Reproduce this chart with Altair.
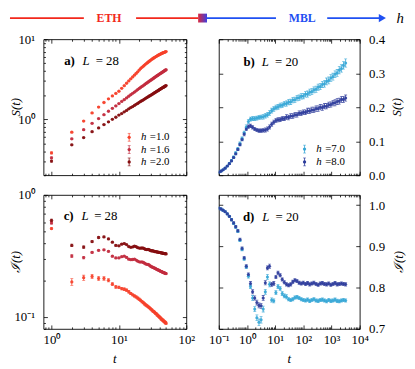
import altair as alt
import pandas as pd

FONT = "Liberation Serif"
RED = "#f2281c"
BLUE = "#1f50f2"

# ---------------- panels a) and c): L = 28 ----------------
t_L28 = list(range(1, 51))
h_L28 = ["=1.0", "=1.6", "=2.0"]
col_L28 = ["#f6402a", "#c22b3e", "#850d0f"]

S_h10 = [0.38, 0.69, 0.95, 1.20, 1.42, 1.62, 1.80, 1.96, 2.10, 2.24,
         2.44, 2.63, 2.82, 3.01, 3.20, 3.38, 3.56, 3.74, 3.92, 4.12,
         4.30, 4.46, 4.61, 4.76, 4.90, 5.03, 5.16, 5.29, 5.41, 5.53,
         5.64, 5.75, 5.85, 5.95, 6.04, 6.13, 6.21, 6.29, 6.37, 6.44,
         6.51, 6.58, 6.64, 6.70, 6.76, 6.82, 6.87, 6.92, 6.97, 7.02]
S_h16 = [0.33, 0.57, 0.74, 0.89, 1.02, 1.14, 1.26, 1.37, 1.47, 1.57,
         1.67, 1.76, 1.85, 1.94, 2.03, 2.11, 2.19, 2.27, 2.35, 2.43,
         2.50, 2.57, 2.64, 2.71, 2.78, 2.85, 2.91, 2.98, 3.04, 3.10,
         3.16, 3.22, 3.28, 3.34, 3.40, 3.45, 3.51, 3.56, 3.62, 3.67,
         3.72, 3.77, 3.82, 3.87, 3.92, 3.97, 4.02, 4.07, 4.11, 4.16]
S_h20 = [0.30, 0.48, 0.59, 0.70, 0.78, 0.86, 0.93, 1.00, 1.06, 1.13,
         1.18, 1.24, 1.29, 1.35, 1.40, 1.44, 1.49, 1.54, 1.58, 1.63,
         1.67, 1.71, 1.75, 1.79, 1.83, 1.87, 1.91, 1.94, 1.98, 2.01,
         2.05, 2.08, 2.12, 2.15, 2.19, 2.22, 2.25, 2.28, 2.31, 2.35,
         2.38, 2.41, 2.44, 2.47, 2.50, 2.52, 2.55, 2.58, 2.61, 2.64]
S_err_h10 = [0.010, 0.012, 0.014, 0.016, 0.018, 0.020, 0.022, 0.023, 0.025, 0.027,
             0.029, 0.030, 0.032, 0.034, 0.036, 0.037, 0.039, 0.040, 0.042, 0.044,
             0.045, 0.046, 0.047, 0.048, 0.050, 0.051, 0.052, 0.053, 0.054, 0.055,
             0.056, 0.057, 0.058, 0.059, 0.060, 0.061, 0.062, 0.063, 0.063, 0.064,
             0.065, 0.066, 0.066, 0.067, 0.068, 0.068, 0.069, 0.070, 0.070, 0.071]
S_err_h16 = [0.008, 0.010, 0.011, 0.012, 0.013, 0.014, 0.015, 0.016, 0.017, 0.018,
             0.019, 0.020, 0.021, 0.022, 0.023, 0.024, 0.025, 0.025, 0.026, 0.027,
             0.028, 0.028, 0.029, 0.030, 0.031, 0.031, 0.032, 0.033, 0.033, 0.034,
             0.035, 0.035, 0.036, 0.037, 0.037, 0.038, 0.038, 0.039, 0.040, 0.040,
             0.041, 0.041, 0.042, 0.042, 0.043, 0.043, 0.044, 0.044, 0.045, 0.045]
S_err_h20 = [0.008, 0.009, 0.010, 0.011, 0.011, 0.012, 0.012, 0.013, 0.013, 0.014,
             0.014, 0.015, 0.015, 0.016, 0.016, 0.017, 0.017, 0.018, 0.018, 0.019,
             0.019, 0.020, 0.020, 0.021, 0.021, 0.022, 0.022, 0.022, 0.023, 0.023,
             0.024, 0.024, 0.025, 0.025, 0.025, 0.026, 0.026, 0.027, 0.027, 0.027,
             0.028, 0.028, 0.028, 0.029, 0.029, 0.030, 0.030, 0.030, 0.031, 0.031]

I_h10 = [0.530, 0.194, 0.210, 0.215, 0.207, 0.207, 0.200, 0.186, 0.177, 0.175,
         0.171, 0.169, 0.166, 0.161, 0.156, 0.152, 0.149, 0.146, 0.143, 0.140,
         0.137, 0.134, 0.131, 0.128, 0.126, 0.124, 0.122, 0.120, 0.118, 0.116,
         0.114, 0.112, 0.111, 0.109, 0.107, 0.106, 0.104, 0.103, 0.101, 0.100,
         0.099, 0.097, 0.096, 0.095, 0.094, 0.093, 0.092, 0.091, 0.090, 0.089]
I_h16 = [0.590, 0.316, 0.307, 0.339, 0.352, 0.355, 0.345, 0.315, 0.305, 0.305,
         0.312, 0.315, 0.308, 0.298, 0.295, 0.296, 0.298, 0.293, 0.287, 0.283,
         0.282, 0.283, 0.280, 0.276, 0.272, 0.270, 0.270, 0.267, 0.263, 0.259,
         0.257, 0.255, 0.253, 0.251, 0.249, 0.247, 0.245, 0.243, 0.242, 0.240,
         0.238, 0.237, 0.235, 0.234, 0.232, 0.231, 0.230, 0.229, 0.228, 0.227]
I_h20 = [0.620, 0.386, 0.374, 0.415, 0.448, 0.453, 0.436, 0.410, 0.386, 0.383,
         0.395, 0.400, 0.392, 0.378, 0.372, 0.375, 0.380, 0.377, 0.370, 0.367,
         0.366, 0.368, 0.366, 0.362, 0.358, 0.357, 0.358, 0.356, 0.352, 0.349,
         0.349, 0.348, 0.346, 0.344, 0.343, 0.342, 0.341, 0.340, 0.339, 0.338,
         0.337, 0.336, 0.335, 0.334, 0.333, 0.332, 0.331, 0.331, 0.330, 0.329]
I_err_h10 = [0.010, 0.012, 0.010, 0.009, 0.008, 0.007, 0.006, 0.005, 0.005, 0.004,
             0.004, 0.004, 0.004, 0.004, 0.003, 0.003, 0.003, 0.003, 0.003, 0.003,
             0.003, 0.003, 0.003, 0.003, 0.003, 0.003, 0.002, 0.002, 0.002, 0.002,
             0.002, 0.002, 0.002, 0.002, 0.002, 0.002, 0.002, 0.002, 0.002, 0.002,
             0.002, 0.002, 0.002, 0.002, 0.002, 0.002, 0.002, 0.002, 0.002, 0.002]
I_err_h16 = [0.012, 0.008, 0.007, 0.006, 0.006, 0.005, 0.005, 0.005, 0.004, 0.004,
             0.004, 0.004, 0.004, 0.004, 0.003, 0.003, 0.003, 0.003, 0.003, 0.003,
             0.003, 0.003, 0.003, 0.003, 0.003, 0.003, 0.003, 0.003, 0.003, 0.003,
             0.003, 0.003, 0.003, 0.003, 0.003, 0.003, 0.003, 0.003, 0.003, 0.003,
             0.003, 0.003, 0.003, 0.003, 0.003, 0.003, 0.003, 0.003, 0.003, 0.003]
I_err_h20 = [0.014, 0.009, 0.008, 0.007, 0.007, 0.006, 0.006, 0.005, 0.005, 0.005,
             0.005, 0.005, 0.004, 0.004, 0.004, 0.004, 0.004, 0.004, 0.004, 0.004,
             0.004, 0.004, 0.004, 0.004, 0.004, 0.004, 0.004, 0.004, 0.004, 0.004,
             0.004, 0.004, 0.004, 0.004, 0.004, 0.004, 0.004, 0.004, 0.004, 0.004,
             0.004, 0.004, 0.004, 0.004, 0.004, 0.004, 0.004, 0.004, 0.004, 0.004]

# ---------------- panels b) and d): L = 20 ----------------
t_L20 = [0.1, 0.119, 0.141, 0.168, 0.2, 0.237, 0.282, 0.335, 0.398, 0.473,
         0.562, 0.668, 0.794, 0.944, 1.12, 1.33, 1.58, 1.88, 2.24, 2.66,
         3.16, 3.76, 4.47, 5.31, 6.31, 7.5, 8.91, 10.6, 12.6, 15.0,
         17.8, 21.1, 25.1, 29.9, 35.5, 42.2, 50.1, 59.6, 70.8, 84.1,
         100, 119, 141, 168, 200, 237, 282, 335, 398, 473,
         562, 668, 794, 944, 1122, 1334, 1585, 1884, 2239, 2661,
         3162]
h_L20 = ["=7.0", "=8.0"]
col_L20 = ["#35a6d6", "#2c3b9b"]

S_h7 = [0.009, 0.012, 0.016, 0.021, 0.027, 0.035, 0.043, 0.053, 0.065, 0.078,
        0.093, 0.108, 0.125, 0.142, 0.158, 0.165, 0.167, 0.167, 0.168, 0.170,
        0.171, 0.172, 0.175, 0.178, 0.183, 0.190, 0.195, 0.199, 0.201, 0.205,
        0.206, 0.210, 0.211, 0.215, 0.216, 0.221, 0.222, 0.227, 0.228, 0.232,
        0.233, 0.238, 0.239, 0.244, 0.246, 0.251, 0.253, 0.259, 0.261, 0.267,
        0.269, 0.276, 0.279, 0.286, 0.290, 0.297, 0.301, 0.309, 0.314, 0.323,
        0.330]
S_h8 = [0.009, 0.012, 0.016, 0.021, 0.027, 0.034, 0.042, 0.052, 0.063, 0.076,
        0.090, 0.105, 0.121, 0.136, 0.143, 0.145, 0.141, 0.136, 0.133, 0.131,
        0.131, 0.132, 0.133, 0.136, 0.142, 0.150, 0.156, 0.161, 0.163, 0.164,
        0.167, 0.167, 0.171, 0.170, 0.174, 0.174, 0.178, 0.178, 0.182, 0.182,
        0.185, 0.185, 0.189, 0.189, 0.192, 0.192, 0.196, 0.196, 0.200, 0.199,
        0.203, 0.203, 0.207, 0.208, 0.212, 0.213, 0.217, 0.218, 0.223, 0.223,
        0.227]
S_err_h7 = [0.001, 0.001, 0.002, 0.002, 0.002, 0.003, 0.003, 0.004, 0.004, 0.004,
            0.005, 0.005, 0.005, 0.006, 0.006, 0.006, 0.006, 0.006, 0.006, 0.006,
            0.006, 0.007, 0.007, 0.007, 0.007, 0.007, 0.007, 0.007, 0.007, 0.007,
            0.007, 0.007, 0.008, 0.008, 0.008, 0.008, 0.008, 0.008, 0.008, 0.008,
            0.008, 0.008, 0.009, 0.009, 0.009, 0.009, 0.009, 0.009, 0.009, 0.009,
            0.010, 0.010, 0.010, 0.010, 0.010, 0.010, 0.010, 0.011, 0.011, 0.011,
            0.012]
S_err_h8 = [0.001, 0.001, 0.001, 0.002, 0.002, 0.002, 0.002, 0.003, 0.003, 0.003,
            0.004, 0.004, 0.005, 0.005, 0.005, 0.005, 0.005, 0.005, 0.005, 0.005,
            0.005, 0.005, 0.006, 0.006, 0.006, 0.006, 0.006, 0.006, 0.006, 0.006,
            0.006, 0.006, 0.007, 0.007, 0.007, 0.007, 0.007, 0.007, 0.007, 0.007,
            0.007, 0.007, 0.008, 0.008, 0.008, 0.008, 0.008, 0.008, 0.008, 0.008,
            0.008, 0.008, 0.008, 0.008, 0.008, 0.009, 0.009, 0.009, 0.009, 0.009,
            0.009]

I_h7 = [0.993, 0.991, 0.988, 0.984, 0.979, 0.973, 0.965, 0.956, 0.947, 0.937,
        0.915, 0.893, 0.870, 0.850, 0.828, 0.803, 0.775, 0.748, 0.727, 0.716,
        0.722, 0.748, 0.790, 0.826, 0.808, 0.770, 0.768, 0.788, 0.803, 0.798,
        0.786, 0.780, 0.778, 0.772, 0.770, 0.772, 0.776, 0.777, 0.775, 0.772,
        0.770, 0.769, 0.771, 0.768, 0.770, 0.772, 0.769, 0.768, 0.770, 0.771,
        0.769, 0.767, 0.770, 0.768, 0.769, 0.771, 0.768, 0.767, 0.769, 0.770,
        0.769]
I_h8 = [0.993, 0.991, 0.988, 0.984, 0.979, 0.973, 0.965, 0.957, 0.948, 0.938,
        0.917, 0.895, 0.872, 0.852, 0.832, 0.810, 0.790, 0.775, 0.764, 0.757,
        0.756, 0.775, 0.812, 0.848, 0.852, 0.808, 0.810, 0.826, 0.836, 0.830,
        0.820, 0.813, 0.808, 0.806, 0.808, 0.814, 0.818, 0.816, 0.812, 0.810,
        0.812, 0.809, 0.811, 0.808, 0.810, 0.812, 0.809, 0.807, 0.810, 0.811,
        0.809, 0.808, 0.810, 0.807, 0.809, 0.811, 0.808, 0.809, 0.810, 0.809,
        0.808]
I_err_h7 = [0.002, 0.002, 0.002, 0.002, 0.002, 0.002, 0.003, 0.003, 0.003, 0.003,
            0.003, 0.004, 0.004, 0.004, 0.005, 0.005, 0.006, 0.006, 0.007, 0.008,
            0.008, 0.007, 0.006, 0.006, 0.006, 0.005, 0.005, 0.005, 0.005, 0.005,
            0.005, 0.005, 0.005, 0.004, 0.004, 0.004, 0.004, 0.004, 0.004, 0.004,
            0.004, 0.004, 0.004, 0.004, 0.004, 0.004, 0.004, 0.004, 0.004, 0.004,
            0.004, 0.004, 0.004, 0.004, 0.004, 0.004, 0.004, 0.004, 0.004, 0.004,
            0.004]
I_err_h8 = [0.002, 0.002, 0.002, 0.002, 0.002, 0.002, 0.003, 0.003, 0.003, 0.003,
            0.003, 0.004, 0.004, 0.004, 0.004, 0.005, 0.005, 0.005, 0.006, 0.006,
            0.006, 0.006, 0.005, 0.005, 0.005, 0.005, 0.005, 0.004, 0.004, 0.004,
            0.004, 0.004, 0.004, 0.004, 0.004, 0.004, 0.004, 0.004, 0.004, 0.004,
            0.004, 0.004, 0.004, 0.004, 0.004, 0.004, 0.004, 0.004, 0.004, 0.004,
            0.004, 0.004, 0.004, 0.004, 0.004, 0.004, 0.004, 0.004, 0.004, 0.004,
            0.004]

# ---------------- texts ----------------
panel_tags = ["a)", "b)", "c)", "d)"]
panel_L = ["= 28", "= 20", "= 28", "= 20"]
banner_words = ["ETH", "MBL"]
y_titles = ["S(t)", "S(t)", "ℐ(t)", "ℐ(t)"]
x_title = "t"

# ---------------- axis tick positions ----------------
def decade_ticks(lo_exp, hi_exp):
    return [m * 10.0 ** e for e in range(lo_exp, hi_exp) for m in range(1, 10)] + [10.0 ** hi_exp]

xt_L28 = [0.8, 0.9] + decade_ticks(0, 2)
yt_a = [0.2, 0.3, 0.4, 0.5, 0.6, 0.7, 0.8, 0.9] + decade_ticks(0, 1)
yt_c = [0.08, 0.09] + decade_ticks(-1, 0)
xt_L20 = decade_ticks(-1, 4)
yt_b = [0.0, 0.1, 0.2, 0.3, 0.4]
yt_d = [0.7, 0.8, 0.9, 1.0]

LOGTEST = "abs(log(datum.value)/LN10 - round(log(datum.value)/LN10)) < 0.001"
SUP = str.maketrans("-0123456789", "⁻⁰¹²³⁴⁵⁶⁷⁸⁹")


def log_labels(exps):
    e = "round(log(datum.value)/LN10)"
    inner = "''"
    for k in reversed(exps):
        inner = f"{e} == {k} ? '10{str(k).translate(SUP)}' : {inner}"
    return f"{LOGTEST} ? ({inner}) : ''"


def ax(orient, values, test, labels=False, expr=None, fmt=None):
    kw = dict(orient=orient, values=values, domain=False, grid=False, ticks=True,
              tickSize={"condition": {"test": test, "value": -4}, "value": -2},
              tickColor="black", tickWidth=0.8, labels=labels,
              labelOverlap=False, labelFlush=False, title=None)
    if labels:
        kw["labelPadding"] = 9 if orient in ("bottom", "top") else 13
        if expr:
            kw["labelExpr"] = expr
        if fmt:
            kw["format"] = fmt
    return alt.Axis(**kw)


def long_df(t, vals, errs, cols):
    rows = []
    for vl, el, c in zip(vals, errs, cols):
        for ti, v, e in zip(t, vl, el):
            rows.append({"t": ti, "v": v, "lo": v - e, "hi": v + e, "col": c})
    return pd.DataFrame(rows)


def axis_layers(xs, ys, x0, y0, a_b, a_t, a_l, a_r):
    d = pd.DataFrame({"xv": [x0], "yv": [y0]})
    return [
        alt.Chart(d).mark_point(opacity=0).encode(
            x=alt.X("xv:Q", scale=xs, axis=a_b), y=alt.Y("yv:Q", scale=ys, axis=a_l)),
        alt.Chart(d).mark_point(opacity=0).encode(
            x=alt.X("xv:Q", scale=xs, axis=a_t), y=alt.Y("yv:Q", scale=ys, axis=a_r)),
    ]


def data_layers(df, xs, ys, msize):
    base = alt.Chart(df)
    X = alt.X("t:Q", scale=xs, axis=None)
    C = alt.Color("col:N", scale=None)
    return [
        base.mark_rule(strokeWidth=0.8, clip=True).encode(
            x=X, y=alt.Y("lo:Q", scale=ys, axis=None), y2="hi:Q", color=C),
        base.mark_tick(orient="horizontal", size=3, thickness=0.8, clip=True).encode(
            x=X, y=alt.Y("lo:Q", scale=ys, axis=None), color=C),
        base.mark_tick(orient="horizontal", size=3, thickness=0.8, clip=True).encode(
            x=X, y=alt.Y("hi:Q", scale=ys, axis=None), color=C),
        base.mark_circle(size=msize, opacity=0.9, clip=True).encode(
            x=X, y=alt.Y("v:Q", scale=ys, axis=None), color=C),
    ]


ONE = pd.DataFrame({"a": [0]})


def title_layer(txt, x, y, angle):
    return alt.Chart(ONE).mark_text(
        text=txt, font=FONT, fontSize=13, fontStyle="italic", angle=angle,
        align="center", baseline="middle", color="black"
    ).encode(x=alt.value(x), y=alt.value(y))


def tag_layers(tag, ltxt, x_tag, x_L, x_eq, y_base):
    common = dict(font=FONT, fontSize=13, align="left", baseline="alphabetic", color="black")
    return [
        alt.Chart(ONE).mark_text(text=tag, fontWeight="bold", **common).encode(
            x=alt.value(x_tag), y=alt.value(y_base)),
        alt.Chart(ONE).mark_text(text="L", fontStyle="italic", **common).encode(
            x=alt.value(x_L), y=alt.value(y_base)),
        alt.Chart(ONE).mark_text(text=ltxt, **common).encode(
            x=alt.value(x_eq), y=alt.value(y_base)),
    ]


def legend_layers(sx, rows_y, cols, labels):
    n = len(rows_y)
    d = pd.DataFrame({"lx": [sx] * n, "ly": rows_y,
                      "lo": [y - 4 for y in rows_y], "hi": [y + 4 for y in rows_y],
                      "col": cols, "hs": ["h"] * n, "hx": [sx + 12] * n,
                      "vs": labels, "vx": [sx + 21] * n})
    X = alt.X("lx:Q", scale=None)
    C = alt.Color("col:N", scale=None)
    return [
        alt.Chart(d).mark_rule(strokeWidth=0.8).encode(
            x=X, y=alt.Y("lo:Q", scale=None), y2="hi:Q", color=C),
        alt.Chart(d).mark_tick(orient="horizontal", size=3, thickness=0.8).encode(
            x=X, y=alt.Y("lo:Q", scale=None), color=C),
        alt.Chart(d).mark_tick(orient="horizontal", size=3, thickness=0.8).encode(
            x=X, y=alt.Y("hi:Q", scale=None), color=C),
        alt.Chart(d).mark_circle(size=11, opacity=1).encode(
            x=X, y=alt.Y("ly:Q", scale=None), color=C),
        alt.Chart(d).mark_text(font=FONT, fontSize=11, fontStyle="italic", align="left",
                               baseline="middle", color="black").encode(
            x=alt.X("hx:Q", scale=None), y=alt.Y("ly:Q", scale=None), text="hs:N"),
        alt.Chart(d).mark_text(font=FONT, fontSize=11, align="left",
                               baseline="middle", color="black").encode(
            x=alt.X("vx:Q", scale=None), y=alt.Y("ly:Q", scale=None), text="vs:N"),
    ]


def banner_layers():
    BY = -21.5
    seg = pd.DataFrame({"x1": [-34, 94, 166, 288], "x2": [41, 157, 236, 342],
                        "col": [RED, RED, BLUE, BLUE]})
    words = pd.DataFrame({"x": [66.5, 262.7], "w": banner_words, "col": [RED, BLUE]})
    grad = alt.LinearGradient(gradient="linear", x1=0, x2=1, y1=0, y2=0,
                              stops=[alt.GradientStop(color="#d8283e", offset=0),
                                     alt.GradientStop(color="#3f3fe0", offset=1)])
    return [
        alt.Chart(seg).mark_rule(strokeWidth=1.8).encode(
            x=alt.X("x1:Q", scale=None), x2="x2:Q", y=alt.value(BY),
            color=alt.Color("col:N", scale=None)),
        alt.Chart(words).mark_text(font=FONT, fontSize=12, fontWeight="bold",
                                   align="center", baseline="alphabetic").encode(
            x=alt.X("x:Q", scale=None), y=alt.value(BY + 4.2), text="w:N",
            color=alt.Color("col:N", scale=None)),
        alt.Chart(ONE).mark_rect(fill=grad).encode(
            x=alt.value(157), x2=alt.value(166), y=alt.value(BY - 4.5), y2=alt.value(BY + 4.5)),
        alt.Chart(ONE).mark_point(shape="triangle-right", filled=True, size=70,
                                  color=BLUE, opacity=1).encode(
            x=alt.value(344), y=alt.value(BY)),
        alt.Chart(ONE).mark_text(text="h", font=FONT, fontSize=15, fontStyle="italic",
                                 align="center", baseline="alphabetic", color="black").encode(
            x=alt.value(362), y=alt.value(BY + 5)),
    ]


W_L, W_R = 145, 143
H_T, H_B = 138, 136

# ---------------- panel a ----------------
xs28 = alt.Scale(type="log", domain=[0.76, 100], nice=False)
ys_a = alt.Scale(type="log", domain=[0.2, 10], nice=False)
df_a = long_df(t_L28, [S_h10, S_h16, S_h20], [S_err_h10, S_err_h16, S_err_h20], col_L28)
pa = alt.layer(
    *axis_layers(xs28, ys_a, 1, 1,
                 ax("bottom", xt_L28, LOGTEST), ax("top", xt_L28, LOGTEST),
                 ax("left", yt_a, LOGTEST, labels=True, expr=log_labels([0, 1])),
                 ax("right", yt_a, LOGTEST)),
    *data_layers(df_a, xs28, ys_a, 11),
    title_layer(y_titles[0], -27.5, H_T / 2, 270),
    *tag_layers(panel_tags[0], panel_L[0], 21, 39.5, 53, 26.5),
    *legend_layers(87, [99.5, 112, 124.5], col_L28, h_L28),
    *banner_layers(),
).resolve_axis(x="independent", y="independent").properties(width=W_L, height=H_T)

# ---------------- panel b ----------------
xs20 = alt.Scale(type="log", domain=[0.1, 10000], nice=False)
ys_b = alt.Scale(type="linear", domain=[0, 0.4], nice=False, zero=False)
df_b = long_df(t_L20, [S_h7, S_h8], [S_err_h7, S_err_h8], col_L20)
pb = alt.layer(
    *axis_layers(xs20, ys_b, 1, 0.1,
                 ax("bottom", xt_L20, LOGTEST), ax("top", xt_L20, LOGTEST),
                 ax("left", yt_b, "true"),
                 ax("right", yt_b, "true", labels=True, fmt=".1f")),
    *data_layers(df_b, xs20, ys_b, 10),
    title_layer(y_titles[1], W_R + 38, H_T / 2, 270),
    *tag_layers(panel_tags[1], panel_L[1], 25, 43.5, 57, 27),
    *legend_layers(87, [111.5, 124.5], col_L20, h_L20),
).resolve_axis(x="independent", y="independent").properties(width=W_R, height=H_T)

# ---------------- panel c ----------------
ys_c = alt.Scale(type="log", domain=[0.08, 1], nice=False)
df_c = long_df(t_L28, [I_h10, I_h16, I_h20], [I_err_h10, I_err_h16, I_err_h20], col_L28)
pc = alt.layer(
    *axis_layers(xs28, ys_c, 1, 0.5,
                 ax("bottom", xt_L28, LOGTEST, labels=True, expr=log_labels([0, 1, 2])),
                 ax("top", xt_L28, LOGTEST),
                 ax("left", yt_c, LOGTEST, labels=True, expr=log_labels([-1, 0])),
                 ax("right", yt_c, LOGTEST)),
    *data_layers(df_c, xs28, ys_c, 11),
    title_layer(y_titles[2], -27.5, H_B / 2, 270),
    title_layer(x_title, W_L / 2, H_B + 31, 0),
    *tag_layers(panel_tags[2], panel_L[2], 20.5, 38.5, 51.5, 25.7),
).resolve_axis(x="independent", y="independent").properties(width=W_L, height=H_B)

# ---------------- panel d ----------------
ys_d = alt.Scale(type="linear", domain=[0.7, 1.025], nice=False, zero=False)
df_d = long_df(t_L20, [I_h7, I_h8], [I_err_h7, I_err_h8], col_L20)
pdd = alt.layer(
    *axis_layers(xs20, ys_d, 1, 0.8,
                 ax("bottom", xt_L20, LOGTEST, labels=True,
                    expr=log_labels([-1, 0, 1, 2, 3, 4])),
                 ax("top", xt_L20, LOGTEST),
                 ax("left", yt_d, "true"),
                 ax("right", yt_d, "true", labels=True, fmt=".1f")),
    *data_layers(df_d, xs20, ys_d, 10),
    title_layer(y_titles[3], W_R + 40, H_B / 2, 270),
    title_layer(x_title, W_R / 2, H_B + 31, 0),
    *tag_layers(panel_tags[3], panel_L[3], 24.5, 44, 57.5, 26),
).resolve_axis(x="independent", y="independent").properties(width=W_R, height=H_B)

chart = alt.concat(
    pa, pb, pc, pdd, columns=2, spacing={"row": 20, "column": 33}, bounds="flush"
).properties(padding=0).configure_view(
    stroke="black", strokeWidth=0.9
).configure_axis(
    labelFont=FONT, labelFontSize=13, labelColor="black"
)

chart.save("out.html", embed_options={"renderer": "svg", "actions": False})
